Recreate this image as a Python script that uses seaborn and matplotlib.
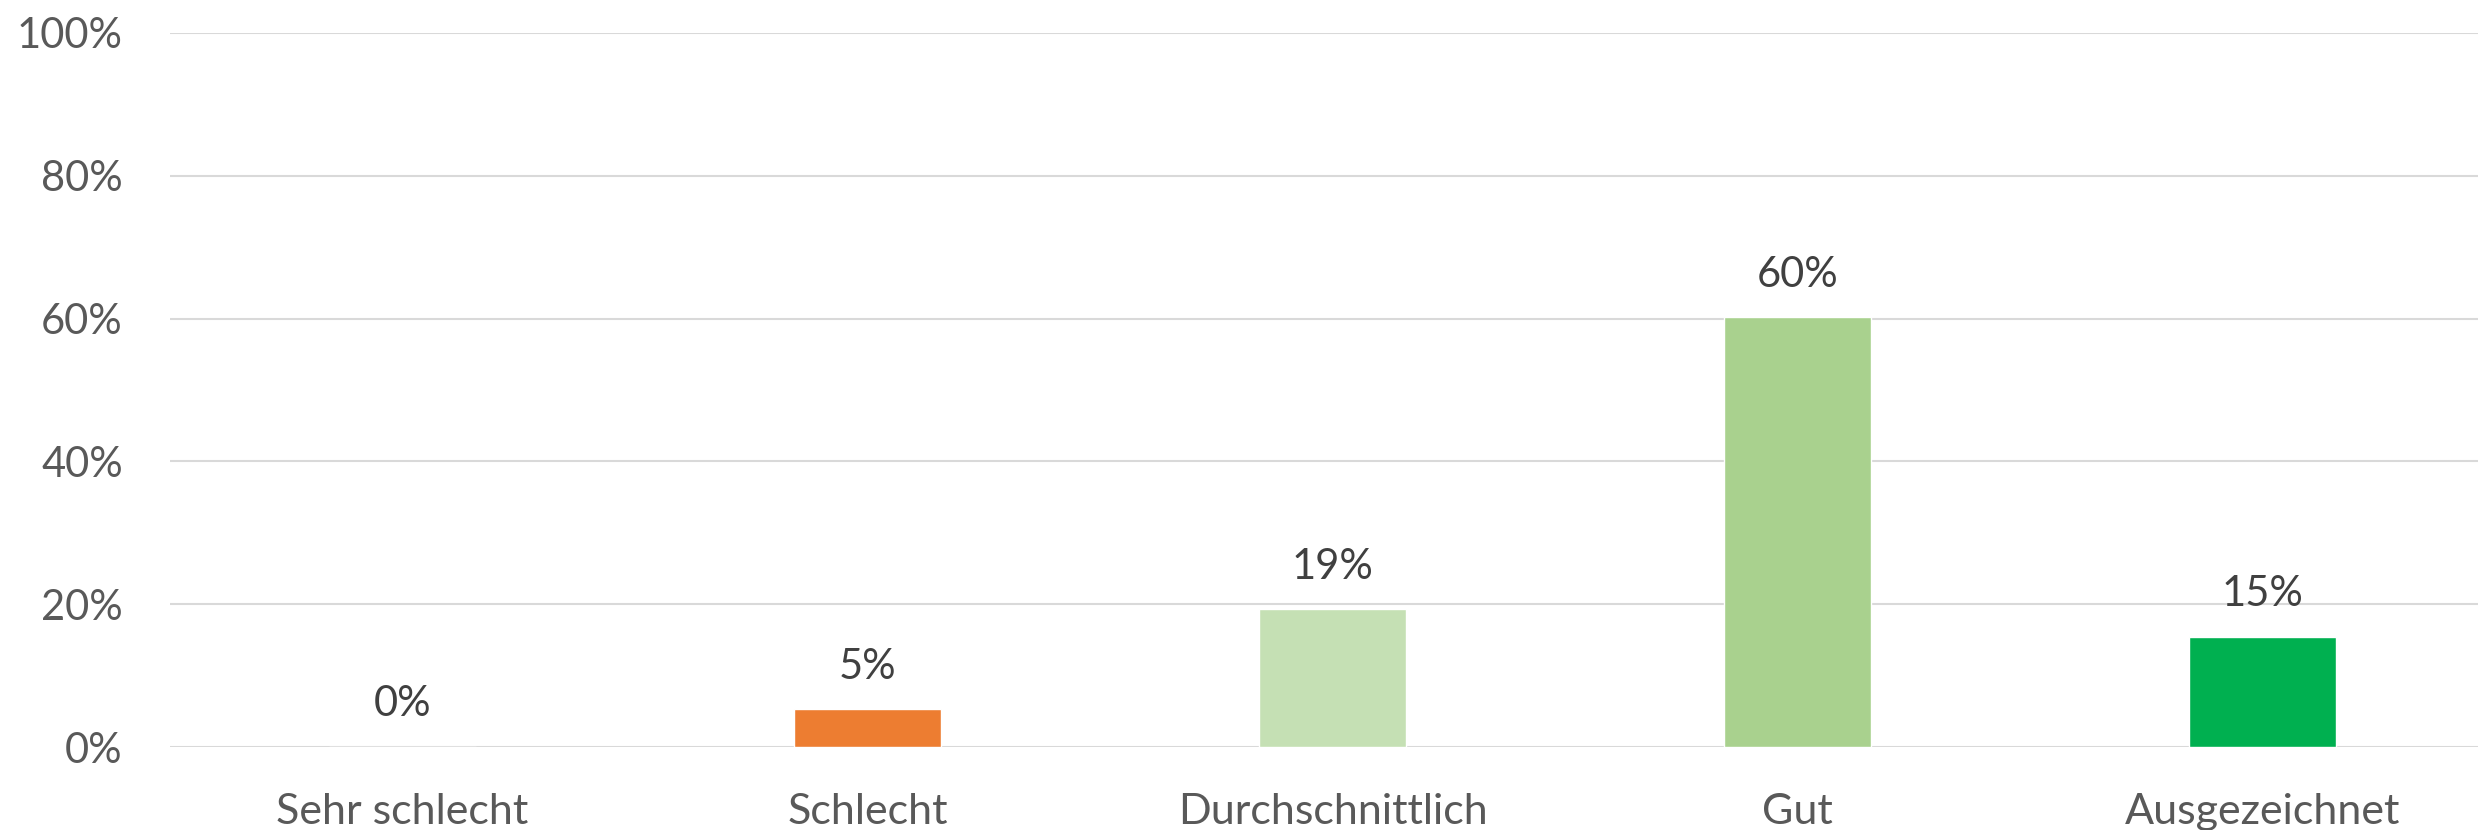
import matplotlib
matplotlib.use("Agg")
import matplotlib.pyplot as plt
import seaborn as sns
import pandas as pd

# Daten
kategorien = ['Sehr schlecht', 'Schlecht', 'Durchschnittlich', 'Gut', 'Ausgezeichnet']
anteile = [0.0, 5.3, 19.3, 60.2, 15.4]
farben = ['#ED7D31', '#ED7D31', '#C5E0B4', '#A9D18E', '#00B050']
y_ticks = [0, 20, 40, 60, 80, 100]

sns.set_style('white')
plt.rcParams['font.family'] = ['Lato', 'DejaVu Sans']

df = pd.DataFrame({'Kategorie': kategorien, 'Anteil': anteile})

fig = plt.figure(figsize=(24.78, 8.30), dpi=100)
# Achse reicht rechts etwas über den Bildrand hinaus (wie im Original)
ax = fig.add_axes([170 / 2478, (830 - 747) / 830, (2495 - 170) / 2478, (747 - 33) / 830])

sns.barplot(data=df, x='Kategorie', y='Anteil', hue='Kategorie',
            palette=dict(zip(kategorien, farben)), width=0.314,
            saturation=1, legend=False, ax=ax, zorder=3)

ax.set_ylim(0, 100)
ax.set_yticks(y_ticks)
ax.set_yticklabels([f'{v}%' for v in y_ticks])
ax.grid(axis='y', color='#D9D9D9', linewidth=1.5, zorder=0)
ax.set_axisbelow(True)
for s in ax.spines.values():
    s.set_visible(False)

ax.set_xlabel('')
ax.set_ylabel('')
ax.tick_params(axis='y', length=0, pad=34, labelsize=30, labelcolor='#595959')
ax.tick_params(axis='x', length=0, pad=33, labelsize=31, labelcolor='#595959')

# Datenbeschriftungen
for cont in ax.containers:
    ax.bar_label(cont, labels=[f'{v.get_height():.0f}%' for v in cont],
                 padding=17, fontsize=30, color='#404040')

fig.savefig('out.png', dpi=100)
